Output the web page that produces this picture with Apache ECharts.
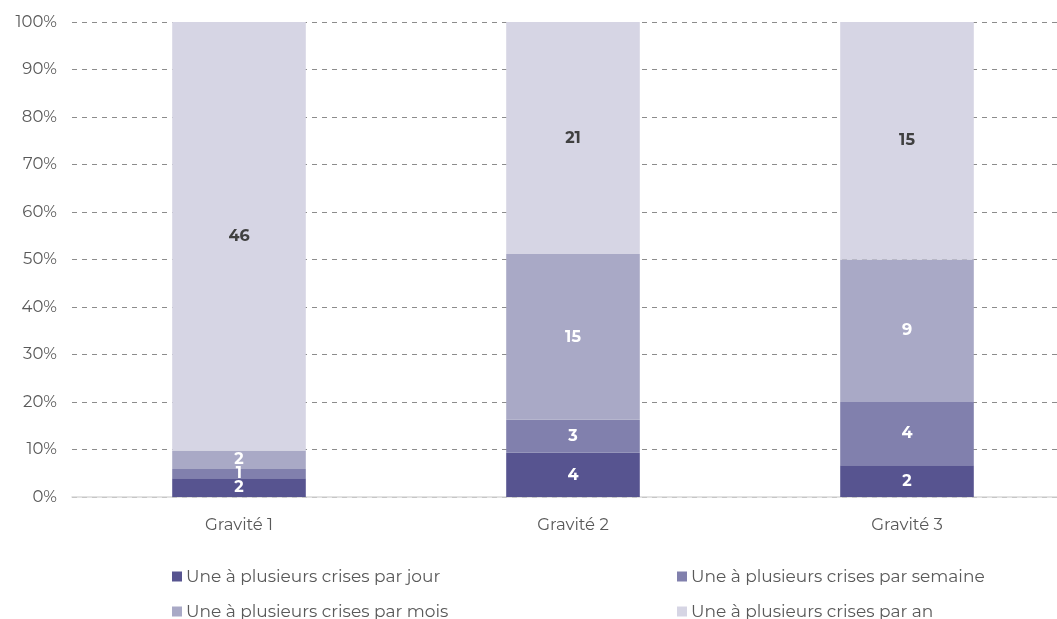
<!DOCTYPE html>
<html><head><meta charset="utf-8">
<script src="https://cdn.jsdelivr.net/npm/echarts@6/dist/echarts.min.js"></script>
<style>html,body{margin:0;padding:0;background:#fff}#c{width:1057px;height:619px}</style>
</head><body><div id="c"></div>
<script>
const categories = ['Gravité 1', 'Gravité 2', 'Gravité 3'];
const seriesNames = ['Une à plusieurs crises par jour', 'Une à plusieurs crises par semaine', 'Une à plusieurs crises par mois', 'Une à plusieurs crises par an'];
const parJour = [2, 4, 2];
const parSemaine = [1, 3, 4];
const parMois = [2, 15, 9];
const parAn = [46, 21, 15];
const yTicks = [0, 10, 20, 30, 40, 50, 60, 70, 80, 90, 100];

const counts = [parJour, parSemaine, parMois, parAn];
const totals = categories.map((_, i) => counts.reduce((s, a) => s + a[i], 0));
const colors = ['#575490', '#8180ad', '#a9a9c6', '#d6d5e4'];
const labelColors = ['#ffffff', '#ffffff', '#ffffff', '#404040'];
const font = 'Montserrat, "Noto Sans", sans-serif';

const series = counts.map((arr, k) => ({
  name: seriesNames[k],
  type: 'bar',
  stack: 'total',
  barWidth: '40%',
  itemStyle: { color: colors[k] },
  data: arr.map((v, i) => ({ value: v / totals[i] * 100, count: v })),
  label: {
    show: true,
    position: 'inside',
    formatter: p => p.data.count,
    color: labelColors[k],
    fontSize: 16,
    fontWeight: 'bold',
    fontFamily: font
  },
  emphasis: { disabled: true }
}));

const legendPos = [[172, 568], [677, 568], [172, 603], [677, 603]];
const legends = seriesNames.map((n, k) => ({
  data: [n],
  left: legendPos[k][0],
  top: legendPos[k][1],
  padding: 0,
  itemWidth: 10, itemHeight: 10,
  itemGap: 0,
  icon: 'rect',
  textStyle: { color: '#595959', fontSize: 17, fontFamily: font, padding: [0, 0, 0, -1] },
  selectedMode: false
}));

const chart = echarts.init(document.getElementById('c'));
chart.setOption({
  animation: false,
  color: colors,
  legend: legends,
  grid: { left: 72, width: 1002, top: 22, bottom: 122, containLabel: false, outerBoundsMode: 'none' },
  xAxis: {
    type: 'category',
    data: categories,
    axisLine: { lineStyle: { color: '#d9d9d9', width: 1.5 } },
    axisTick: { show: false },
    axisLabel: { color: '#595959', fontSize: 16.5, fontFamily: font, margin: 20 }
  },
  yAxis: {
    type: 'value',
    min: yTicks[0], max: yTicks[yTicks.length - 1], interval: 10,
    axisLine: { show: false },
    axisTick: { show: false },
    axisLabel: { color: '#595959', fontSize: 16.5, fontFamily: font, formatter: v => v + '%', margin: 15 },
    splitLine: { lineStyle: { color: '#8c8c8c', type: [5, 5], width: 1 } }
  },
  series: series
});
</script></body></html>
